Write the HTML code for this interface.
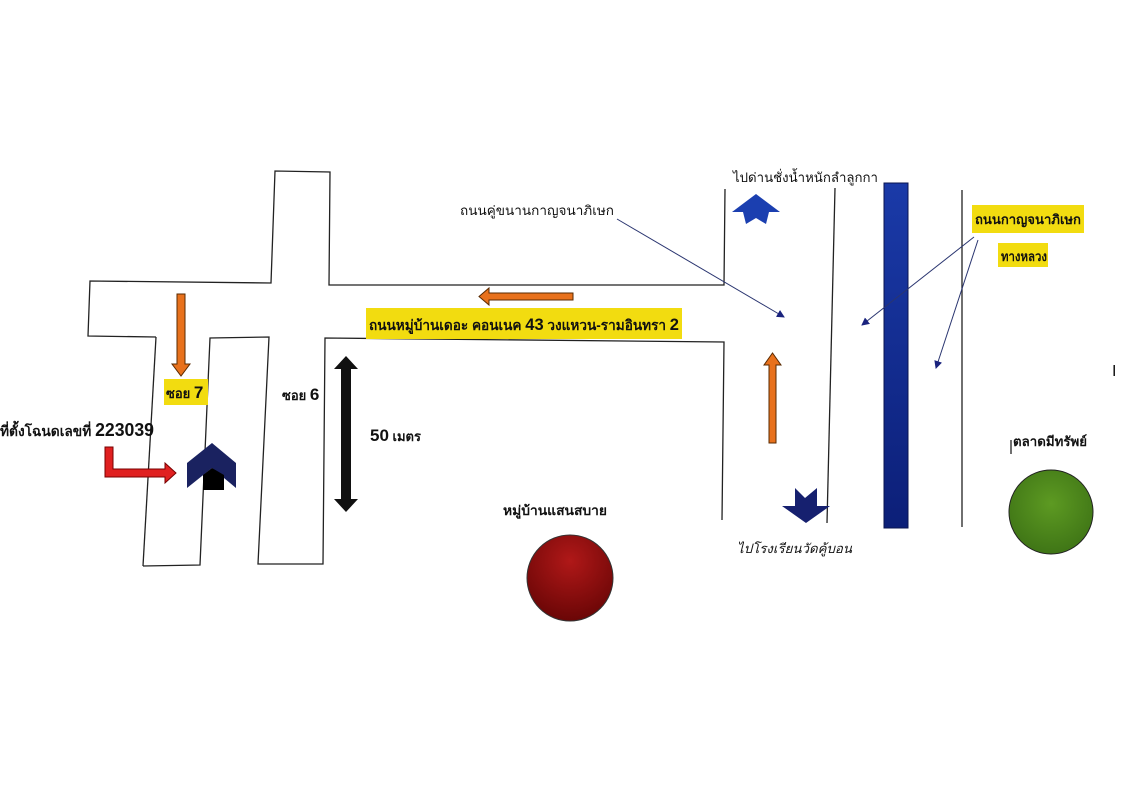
<!DOCTYPE html>
<html><head><meta charset="utf-8"><style>
html,body{margin:0;padding:0;background:#fff;}
svg{display:block;}
text{font-family:"Liberation Sans","Noto Sans CJK SC",sans-serif;}
</style></head><body>
<svg width="1131" height="800" viewBox="0 0 1131 800" xmlns="http://www.w3.org/2000/svg">
<defs>
<radialGradient id="red" cx="50%" cy="30%" r="70%"><stop offset="0" stop-color="#b01818"/><stop offset="1" stop-color="#6a0606"/></radialGradient>
<radialGradient id="green" cx="50%" cy="40%" r="60%"><stop offset="0" stop-color="#5d9a22"/><stop offset="1" stop-color="#3f7516"/></radialGradient>
<linearGradient id="bar" x1="0" y1="0" x2="0" y2="1"><stop offset="0" stop-color="#1a3aa8"/><stop offset="1" stop-color="#0c1f78"/></linearGradient>
<marker id="ah" markerWidth="8" markerHeight="8" refX="7" refY="4" orient="auto" markerUnits="userSpaceOnUse"><path d="M0,0 L8,4 L0,8 z" fill="#1a237e"/></marker>
</defs>
<g fill="none" stroke="#222" stroke-width="1.3">
<polyline points="156,337 88,336 90,281 271,283 275,171 330,172 329,285 724,285 725,189"/>
<polyline points="143,566 156,337"/>
<polyline points="143,566 200,565 210,338 269,337 258,564 323,564 325,338 724,342 722,520"/>
<line x1="835" y1="188" x2="827" y2="523"/>
<line x1="962" y1="190" x2="962" y2="527"/>
<line x1="1011" y1="440" x2="1011" y2="454"/>
</g>
<rect x="884" y="183" width="24" height="345" fill="url(#bar)" stroke="#0a1450" stroke-width="1"/>
<g stroke="#2a3570" stroke-width="1" fill="none" marker-end="url(#ah)">
<line x1="617" y1="219" x2="784" y2="317"/>
<line x1="974" y1="237" x2="862" y2="325"/>
<line x1="978" y1="240" x2="936" y2="368"/>
</g>
<g fill="#e8711c" stroke="#5a2a00" stroke-width="1">
<path d="M177,294 h8 v70 h5 l-9,12 l-9,-12 h5 z"/>
<path d="M573,293 v7 h-84 v5 l-10,-8.5 l10,-8.5 v5 z"/>
<path d="M769,443 h7 v-78 h5 l-8.5,-12 l-8.5,12 h5 z"/>
</g>
<path d="M346,356 l12,13 h-7 v130 h7 l-12,13 l-12,-13 h7 v-130 h-7 z" fill="#111"/>
<path d="M105,447 h8 v22 h52 v-6 l11,10 l-11,10 v-6 h-60 z" fill="#e02020" stroke="#700" stroke-width="1"/>
<path d="M187,488 v-25 l25,-20 l24,20 v25 l-24,-20 z" fill="#1a2260"/>
<path d="M203,490 v-15 l9,-7 l12,7 v15 z" fill="#000"/>
<path d="M732,212 l24,-18 l24,18 h-11 l-3,12 l-10,-6 l-10,6 l-3,-12 z" fill="#1b3fb0"/>
<path d="M782,506 h13 v-18 l10,10 l12,-10 v18 h13 l-24,17 z" fill="#16206f"/>
<circle cx="570" cy="578" r="43" fill="url(#red)" stroke="#333" stroke-width="1"/>
<circle cx="1051" cy="512" r="42" fill="url(#green)" stroke="#222" stroke-width="1"/>
<g fill="#f2dc10">
<rect x="366" y="308" width="316" height="31"/>
<rect x="164" y="379" width="44" height="26"/>
<rect x="972" y="205" width="112" height="28"/>
<rect x="998" y="243" width="50" height="24"/>
</g>
<g fill="#111" font-weight="bold">
<text x="369" y="330" font-size="14" textLength="310" lengthAdjust="spacingAndGlyphs">ถนนหมู่บ้านเดอะ คอนเนค <tspan font-size="17">43</tspan> วงแหวน-รามอินทรา <tspan font-size="17">2</tspan></text>
<text x="166" y="398" font-size="13">ซอย <tspan font-size="17">7</tspan></text>
<text x="282" y="400" font-size="13">ซอย <tspan font-size="17">6</tspan></text>
<text x="370" y="441" font-size="13"><tspan font-size="17">50</tspan> เมตร</text>
<text x="0" y="436" font-size="14" textLength="154" lengthAdjust="spacingAndGlyphs">ที่ตั้งโฉนดเลขที่ <tspan font-size="18">223039</tspan></text>
<text x="975" y="224" font-size="13" textLength="106" lengthAdjust="spacingAndGlyphs">ถนนกาญจนาภิเษก</text>
<text x="1001" y="261" font-size="13" textLength="46" lengthAdjust="spacingAndGlyphs">ทางหลวง</text>
<text x="503" y="515" font-size="13" textLength="104" lengthAdjust="spacingAndGlyphs">หมู่บ้านแสนสบาย</text>
</g>
<g fill="#111" font-size="13">
<text x="460" y="215" textLength="154" lengthAdjust="spacingAndGlyphs">ถนนคู่ขนานกาญจนาภิเษก</text>
<text x="733" y="182" textLength="145" lengthAdjust="spacingAndGlyphs">ไปด่านชั่งน้ำหนักลำลูกกา</text>
<text x="737" y="553" font-style="italic" textLength="115" lengthAdjust="spacingAndGlyphs">ไปโรงเรียนวัดคู้บอน</text>
<text x="1013" y="446" font-weight="bold" textLength="74" lengthAdjust="spacingAndGlyphs">ตลาดมีทรัพย์</text>
<text x="1112" y="376" font-family="Liberation Serif,serif" font-size="16">I</text>
</g>
</svg>
</body></html>
